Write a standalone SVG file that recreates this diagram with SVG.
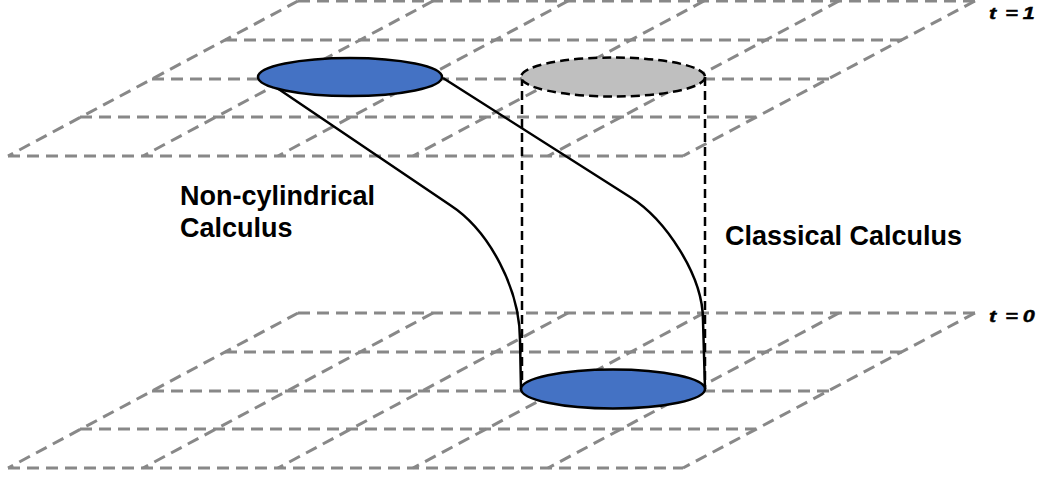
<svg xmlns="http://www.w3.org/2000/svg" width="1042" height="478" viewBox="0 0 1042 478">
  <style>
    .grid line { stroke: #888888; stroke-width: 3; stroke-dasharray: 12 7; fill: none; }
    .curve { stroke: #000000; stroke-width: 2.5; fill: none; }
    .cyl { stroke: #000000; stroke-width: 2.5; stroke-dasharray: 9 5; fill: none; }
    .disk { fill: #4472C4; stroke: #000000; stroke-width: 2.5; }
    .ghost { fill: #BFBFBF; stroke: #000000; stroke-width: 2.5; stroke-dasharray: 9 5; }
    .lbl { font-family: "Liberation Sans", Arial, sans-serif; font-weight: bold; font-size: 27px; fill: #000000; }
    .tl { font-family: "Liberation Sans", Arial, sans-serif; font-weight: bold; font-style: italic; font-size: 16px; fill: #000000; stroke: #000000; stroke-width: 0.4; }
  </style>

  <g id="plane-t1" class="grid">
    <line x1="298" y1="1" x2="975" y2="1"/>
    <line x1="225" y1="40" x2="902" y2="40"/>
    <line x1="152" y1="79" x2="829" y2="79"/>
    <line x1="80" y1="117" x2="756" y2="117"/>
    <line x1="8" y1="156" x2="683" y2="156"/>
    <line x1="298" y1="1" x2="8" y2="156"/>
    <line x1="433" y1="1" x2="143" y2="156"/>
    <line x1="568" y1="1" x2="278" y2="156"/>
    <line x1="704" y1="1" x2="413" y2="156"/>
    <line x1="839" y1="1" x2="548" y2="156"/>
    <line x1="975" y1="1" x2="683" y2="156"/>
  </g>

  <g id="plane-t0" class="grid">
    <line x1="298" y1="313" x2="975" y2="313"/>
    <line x1="225" y1="352" x2="902" y2="352"/>
    <line x1="152" y1="391" x2="829" y2="391"/>
    <line x1="80" y1="429" x2="756" y2="429"/>
    <line x1="8" y1="468" x2="683" y2="468"/>
    <line x1="298" y1="313" x2="8" y2="468"/>
    <line x1="433" y1="313" x2="143" y2="468"/>
    <line x1="568" y1="313" x2="278" y2="468"/>
    <line x1="704" y1="313" x2="413" y2="468"/>
    <line x1="839" y1="313" x2="548" y2="468"/>
    <line x1="975" y1="313" x2="683" y2="468"/>
  </g>

  <g id="connectors">
    <path class="curve" d="M277,88 L450,205 C490,231 520,290 520,340 L521,389"/>
    <path class="curve" d="M443,78 L630,197 C665,219 703,275 703,320 L705,389"/>
    <line class="cyl" x1="522" y1="77" x2="522" y2="389"/>
    <line class="cyl" x1="705" y1="77" x2="705" y2="389"/>
  </g>

  <g id="node-top-disk">
    <ellipse class="disk" cx="350" cy="77" rx="92" ry="19"/>
  </g>
  <g id="node-top-ghost">
    <ellipse class="ghost" cx="613" cy="77" rx="92" ry="19.5"/>
  </g>
  <g id="node-bottom-disk">
    <ellipse class="disk" cx="613" cy="389" rx="92" ry="19.5"/>
  </g>

  <g id="label-noncyl">
    <text class="lbl" x="180" y="205">Non-cylindrical</text>
    <text class="lbl" x="180" y="237">Calculus</text>
  </g>
  <g id="label-classical">
    <text class="lbl" x="725" y="245">Classical Calculus</text>
  </g>
  <g id="label-t1" transform="translate(989,19) scale(1.35,1)">
    <text class="tl" x="0 7 12 20 25">t = 1</text>
  </g>
  <g id="label-t0" transform="translate(989,322) scale(1.35,1)">
    <text class="tl" x="0 7 12 20 25">t = 0</text>
  </g>
</svg>
